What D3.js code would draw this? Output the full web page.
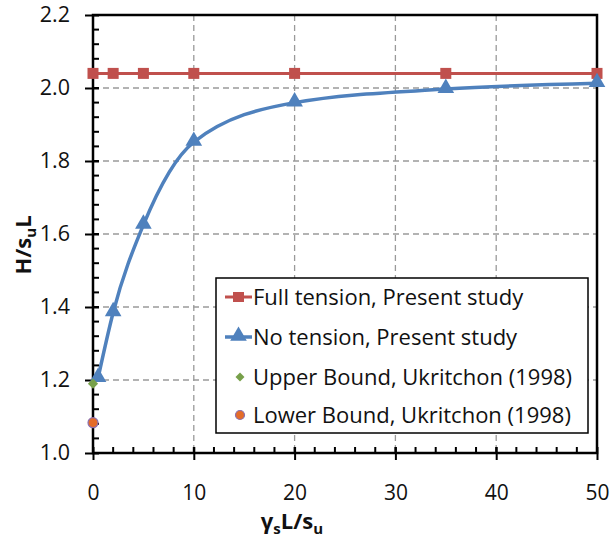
<!DOCTYPE html>
<html>
<head>
<meta charset="utf-8">
<script src="https://cdn.jsdelivr.net/npm/d3@7"></script>
<style>
  html, body { margin: 0; padding: 0; background: #fff; }
  svg { display: block; font-family: "Open Sans", "Noto Sans", sans-serif; }
</style>
</head>
<body>
<svg id="chart" width="613" height="539"></svg>
<script>
// Normalised horizontal capacity H/(s_u L) against gamma_s L / s_u
const fullTensionX = [0, 2, 5, 10, 20, 35, 50];
const fullTensionY = [2.04, 2.04, 2.04, 2.04, 2.04, 2.04, 2.04];
const noTensionX = [0.5, 2, 5, 10, 20, 35, 50];
const noTensionY = [1.205, 1.385, 1.625, 1.852, 1.96, 1.997, 2.013];
const upperBoundX = [0];
const upperBoundY = [1.19];
const lowerBoundX = [0];
const lowerBoundY = [1.083];
const xTicks = [0, 10, 20, 30, 40, 50];
const yTicks = [1.0, 1.2, 1.4, 1.6, 1.8, 2.0, 2.2];
const legendLabels = [
  "Full tension, Present study",
  "No tension, Present study",
  "Upper Bound, Ukritchon (1998)",
  "Lower Bound, Ukritchon (1998)"
];

const red = "#c0504d", blue = "#4f81bd", green = "#77a04a", orange = "#e46c29", purple = "#8a6fb0";

const svg = d3.select("#chart");
const m = { left: 93, top: 15, right: 597, bottom: 453 };

const x = d3.scaleLinear().domain([0, 50]).range([m.left, m.right]);
const y = d3.scaleLinear().domain([1.0, 2.2]).range([m.bottom, m.top]);

// grid
const grid = svg.append("g").attr("stroke", "#9a9a9a").attr("stroke-width", 1.3)
  .attr("stroke-dasharray", "6,4");
grid.selectAll(".gx").data(xTicks.slice(1, -1)).join("line")
  .attr("x1", d => x(d)).attr("x2", d => x(d)).attr("y1", m.top).attr("y2", m.bottom);
grid.selectAll(".gy").data(yTicks.slice(1, -1)).join("line")
  .attr("y1", d => y(d)).attr("y2", d => y(d)).attr("x1", m.left).attr("x2", m.right);

// minor ticks (inside)
const minorX = d3.range(0, 50.001, 2);
const minorY = d3.range(1.0, 2.2001, 0.04);
const ticksG = svg.append("g").attr("stroke", "#000").attr("stroke-width", 2);
ticksG.selectAll(".mx").data(minorX).join("line")
  .attr("x1", d => x(d)).attr("x2", d => x(d)).attr("y1", m.bottom).attr("y2", m.bottom - 6);
ticksG.selectAll(".my").data(minorY).join("line")
  .attr("y1", d => y(d)).attr("y2", d => y(d)).attr("x1", m.left).attr("x2", m.left + 6);

// major axes with crossing ticks
const xAxis = d3.axisBottom(x).tickValues(xTicks).tickFormat(d3.format("d")).tickSizeInner(7).tickSizeOuter(0).tickPadding(25);
const gx = svg.append("g").attr("transform", `translate(0,${m.bottom})`).call(xAxis);
gx.selectAll(".tick line").attr("y1", -6).attr("y2", 7).attr("stroke-width", 2);
gx.select(".domain").remove();
gx.selectAll("text").attr("font-size", 21).attr("fill", "#111").attr("font-family", "Open Sans");

const yAxis = d3.axisLeft(y).tickValues(yTicks).tickFormat(d3.format(".1f")).tickSizeInner(8).tickSizeOuter(0).tickPadding(15);
const gy = svg.append("g").attr("transform", `translate(${m.left},0)`).call(yAxis);
gy.selectAll(".tick line").attr("x1", -8).attr("x2", 6).attr("stroke-width", 2);
gy.select(".domain").remove();
gy.selectAll("text").attr("font-size", 21.5).attr("fill", "#111").attr("font-family", "Open Sans");

// frame
svg.append("rect").attr("x", m.left).attr("y", m.top)
  .attr("width", m.right - m.left).attr("height", m.bottom - m.top)
  .attr("fill", "none").attr("stroke", "#000").attr("stroke-width", 2.5);

// series
const ft = fullTensionX.map((d, i) => [d, fullTensionY[i]]);
const nt = noTensionX.map((d, i) => [d, noTensionY[i]]);

svg.append("path").datum(ft)
  .attr("d", d3.line().x(d => x(d[0])).y(d => y(d[1])))
  .attr("fill", "none").attr("stroke", red).attr("stroke-width", 3);
svg.selectAll(".sq").data(ft).join("rect")
  .attr("x", d => x(d[0]) - 5.5).attr("y", d => y(d[1]) - 5.5)
  .attr("width", 11).attr("height", 11).attr("fill", red);

svg.append("path").datum(nt)
  .attr("d", d3.line().x(d => x(d[0])).y(d => y(d[1])).curve(d3.curveMonotoneX))
  .attr("fill", "none").attr("stroke", blue).attr("stroke-width", 3.5);
const tri = d3.symbol(d3.symbolTriangle, 120);
svg.selectAll(".tri").data(nt).join("path")
  .attr("d", tri).attr("transform", d => `translate(${x(d[0])},${y(d[1]) - 1})`).attr("fill", blue);

// diamond = square turned 45 degrees
const diamond = d3.symbol(d3.symbolSquare, 52);
svg.selectAll(".ub").data(upperBoundX.map((d, i) => [d, upperBoundY[i]])).join("path")
  .attr("d", diamond).attr("transform", d => `translate(${x(d[0])},${y(d[1])}) rotate(45)`).attr("fill", green);
svg.selectAll(".lb").data(lowerBoundX.map((d, i) => [d, lowerBoundY[i]])).join("circle")
  .attr("cx", d => x(d[0])).attr("cy", d => y(d[1])).attr("r", 5)
  .attr("fill", orange).attr("stroke", purple).attr("stroke-width", 1.2);

// legend
const lg = svg.append("g");
lg.append("rect").attr("x", 216).attr("y", 278).attr("width", 372).attr("height", 155)
  .attr("fill", "#fff").attr("stroke", "#000").attr("stroke-width", 1.5);
const rowY = [297, 337, 377, 415];
legendLabels.forEach((t, i) => {
  const cy = rowY[i];
  if (i === 0) {
    lg.append("line").attr("x1", 225).attr("x2", 252).attr("y1", cy).attr("y2", cy).attr("stroke", red).attr("stroke-width", 3);
    lg.append("rect").attr("x", 233).attr("y", cy - 5).attr("width", 11).attr("height", 10).attr("fill", red);
  } else if (i === 1) {
    lg.append("line").attr("x1", 225).attr("x2", 252).attr("y1", cy).attr("y2", cy).attr("stroke", blue).attr("stroke-width", 3.5);
    lg.append("path").attr("d", tri).attr("transform", `translate(238.5,${cy - 1})`).attr("fill", blue);
  } else if (i === 2) {
    lg.append("path").attr("d", d3.symbol(d3.symbolSquare, 40)).attr("transform", `translate(240,${cy}) rotate(45)`).attr("fill", green);
  } else {
    lg.append("circle").attr("cx", 240).attr("cy", cy).attr("r", 4.5).attr("fill", orange).attr("stroke", purple).attr("stroke-width", 1.2);
  }
  lg.append("text").attr("x", 253).attr("y", cy).attr("dy", "0.35em")
    .attr("font-size", 22).attr("fill", "#111").text(t);
});

// axis titles
const xt = svg.append("text").attr("x", 292).attr("y", 529).attr("text-anchor", "middle")
  .attr("font-size", 22).attr("font-weight", "bold").attr("fill", "#111");
xt.append("tspan").text("γ");
xt.append("tspan").attr("font-size", 15).attr("dy", 5).text("s");
xt.append("tspan").attr("dy", -5).text("L/s");
xt.append("tspan").attr("font-size", 15).attr("dy", 5).text("u");

const yt = svg.append("text").attr("transform", "translate(31,245) rotate(-90)").attr("text-anchor", "middle")
  .attr("font-size", 22).attr("font-weight", "bold").attr("fill", "#111");
yt.append("tspan").text("H/s");
yt.append("tspan").attr("font-size", 15).attr("dy", 5).text("u");
yt.append("tspan").attr("dy", -5).text("L");
</script>
</body>
</html>
